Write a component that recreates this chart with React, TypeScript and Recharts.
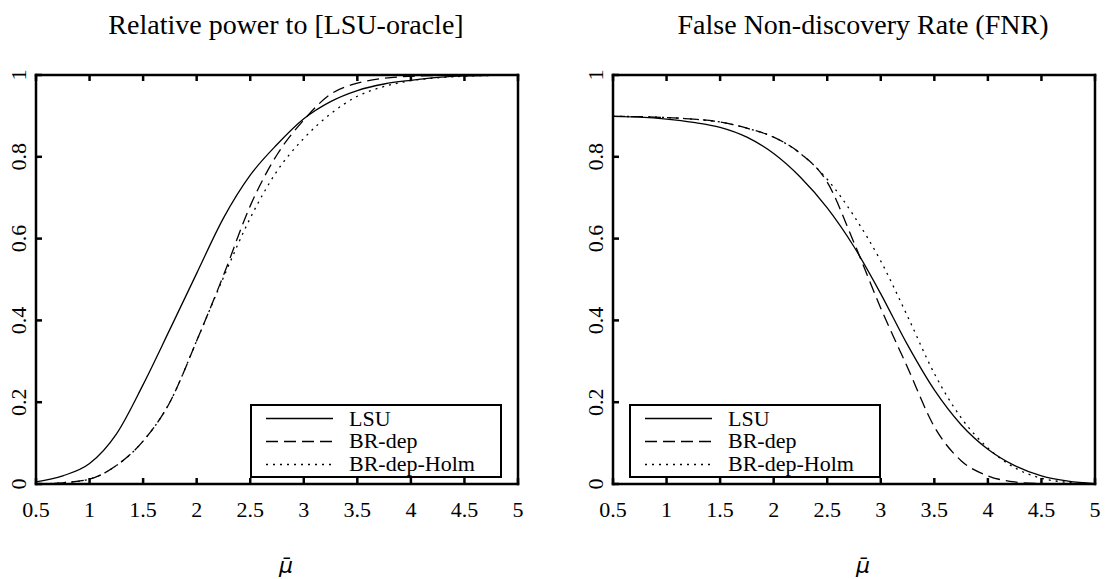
import React from "react";
import { LineChart, Line, XAxis, YAxis, Legend } from "recharts";

const SERIF = '"Liberation Serif", "Times New Roman", serif';

const MU = [0.5, 0.75, 1, 1.25, 1.5, 1.75, 2, 2.25, 2.5, 2.75, 3, 3.25, 3.5, 3.75, 4, 4.25, 4.5, 4.75, 5];

// relative power to [LSU-oracle]
const POWER_LSU = [0.005, 0.02, 0.05, 0.122, 0.243, 0.378, 0.515, 0.65, 0.755, 0.83, 0.893, 0.935, 0.962, 0.978, 0.987, 0.994, 0.998, 0.999, 1.0];
const POWER_BRDEP = [0.0, 0.003, 0.012, 0.045, 0.105, 0.2, 0.35, 0.51, 0.68, 0.805, 0.89, 0.953, 0.98, 0.992, 0.997, 0.999, 1.0, 1.0, 1.0];
const POWER_HOLM = [0.0, 0.003, 0.012, 0.045, 0.105, 0.2, 0.35, 0.505, 0.65, 0.765, 0.845, 0.905, 0.948, 0.972, 0.986, 0.993, 0.997, 0.999, 1.0];

// false non-discovery rate
const FNR_LSU = [0.899, 0.897, 0.892, 0.884, 0.872, 0.848, 0.808, 0.75, 0.675, 0.58, 0.465, 0.34, 0.23, 0.145, 0.085, 0.045, 0.02, 0.007, 0.001];
const FNR_BRDEP = [0.899, 0.898, 0.896, 0.892, 0.885, 0.87, 0.848, 0.808, 0.738, 0.59, 0.43, 0.285, 0.14, 0.057, 0.02, 0.005, 0.001, 0, 0];
const FNR_HOLM = [0.899, 0.898, 0.896, 0.892, 0.885, 0.87, 0.848, 0.808, 0.745, 0.655, 0.545, 0.41, 0.27, 0.162, 0.088, 0.04, 0.014, 0.004, 0.0];

const X_TICKS = [0.5, 1, 1.5, 2, 2.5, 3, 3.5, 4, 4.5, 5];
const Y_TICKS = [0, 0.2, 0.4, 0.6, 0.8, 1];

const SERIES = [
  { key: "lsu", name: "LSU", dash: undefined as string | undefined },
  { key: "brdep", name: "BR-dep", dash: "12 6" },
  { key: "holm", name: "BR-dep-Holm", dash: "2 5" },
];

const toRows = (lsu: number[], brdep: number[], holm: number[]) =>
  MU.map((mu, i) => ({ mu, lsu: lsu[i], brdep: brdep[i], holm: holm[i] }));

const CHART_H = 579;
const PLOT_TOP = 75;
const PLOT_BOTTOM = 484;
const AX = 1; // thin axis band (recharts skips axes of size 0)
const TICK = 6;
const FRAME = { stroke: "#000", strokeWidth: 2.5, strokeLinecap: "square" as const };

function LegendBox() {
  return (
    <svg width={252} height={74} style={{ display: "block" }}>
      <rect x={1} y={1} width={250} height={72} fill="#fff" stroke="#000" strokeWidth={2} />
      {SERIES.map((s, i) => (
        <g key={s.key}>
          <line x1={16} x2={83} y1={14.5 + i * 23} y2={14.5 + i * 23} stroke="#000" strokeWidth={1.3} strokeDasharray={s.dash} />
          <text x={99} y={21.5 + i * 22.5} fontFamily={SERIF} fontSize={22} fill="#000">
            {s.name}
          </text>
        </g>
      ))}
    </svg>
  );
}

function Panel({
  title,
  rows,
  left,
  width,
  plotLeft,
  plotRight,
  legendLeft,
}: {
  title: string;
  rows: Record<string, number>[];
  left: number;
  width: number;
  plotLeft: number;
  plotRight: number;
  legendLeft: number;
}) {
  const center = (plotLeft + plotRight) / 2 + 9;

  const bottomTick = (p: any) => (
    <g>
      <line x1={p.x} x2={p.x} y1={PLOT_BOTTOM} y2={PLOT_BOTTOM - TICK} {...FRAME} strokeLinecap="butt" />
      <text x={p.x} y={PLOT_BOTTOM + 33} textAnchor="middle" fontFamily={SERIF} fontSize={22} fill="#000">
        {String(p.payload.value)}
      </text>
    </g>
  );
  const topTick = (p: any) => <line x1={p.x} x2={p.x} y1={PLOT_TOP} y2={PLOT_TOP + TICK} {...FRAME} strokeLinecap="butt" />;
  const leftTick = (p: any) => {
    const tx = plotLeft - 10;
    return (
      <g>
        <line x1={plotLeft} x2={plotLeft + TICK} y1={p.y} y2={p.y} {...FRAME} strokeLinecap="butt" />
        <text x={tx} y={p.y} transform={`rotate(-90 ${tx} ${p.y})`} textAnchor="middle" fontFamily={SERIF} fontSize={22} fill="#000">
          {String(p.payload.value)}
        </text>
      </g>
    );
  };
  const rightTick = (p: any) => <line x1={plotRight} x2={plotRight - TICK} y1={p.y} y2={p.y} {...FRAME} strokeLinecap="butt" />;

  return (
    <div style={{ position: "absolute", left, top: 0, width, height: CHART_H }}>
      <LineChart
        width={width}
        height={CHART_H}
        data={rows}
        margin={{ top: PLOT_TOP - AX, bottom: CHART_H - PLOT_BOTTOM - AX, left: plotLeft - AX, right: width - plotRight - AX }}
      >
        <XAxis dataKey="mu" type="number" domain={[0.5, 5]} ticks={X_TICKS} interval={0} height={AX} tickLine={false} tickSize={0} axisLine={FRAME} tick={bottomTick} />
        <XAxis xAxisId="top" orientation="top" dataKey="mu" type="number" domain={[0.5, 5]} ticks={X_TICKS} interval={0} height={AX} tickLine={false} tickSize={0} axisLine={FRAME} tick={topTick} />
        <YAxis domain={[0, 1]} ticks={Y_TICKS} interval={0} width={AX} tickLine={false} tickSize={0} axisLine={FRAME} tick={leftTick} />
        <YAxis yAxisId="right" orientation="right" domain={[0, 1]} ticks={Y_TICKS} interval={0} width={AX} tickLine={false} tickSize={0} axisLine={FRAME} tick={rightTick} />
        {SERIES.map((s) => (
          <Line key={s.key} dataKey={s.key} name={s.name} type="monotone" stroke="#000" strokeWidth={1.3} strokeDasharray={s.dash} dot={false} activeDot={false} isAnimationActive={false} />
        ))}
        <Legend layout="vertical" align="center" verticalAlign="middle" wrapperStyle={{ left: legendLeft, top: 404, width: 252, height: 74 }} content={() => <LegendBox />} />
      </LineChart>
      <svg width={width} height={CHART_H} style={{ position: "absolute", left: 0, top: 0, pointerEvents: "none" }}>
        <text x={center} y={34} textAnchor="middle" fontFamily={SERIF} fontSize={28} fill="#000">
          {title}
        </text>
        <text x={center} y={573} textAnchor="middle" fontFamily='"DejaVu Sans", sans-serif' fontStyle="italic" fontSize={22} fill="#000">
          {"\u03bc\u0304"}
        </text>
      </svg>
    </div>
  );
}

export default function App() {
  return (
    <div style={{ position: "absolute", left: 0, top: 0, width: 1105, height: CHART_H, background: "#fff" }}>
      <Panel
        title="Relative power to [LSU-oracle]"
        rows={toRows(POWER_LSU, POWER_BRDEP, POWER_HOLM)}
        left={0}
        width={552}
        plotLeft={36}
        plotRight={518}
        legendLeft={250}
      />
      <Panel
        title="False Non-discovery Rate (FNR)"
        rows={toRows(FNR_LSU, FNR_BRDEP, FNR_HOLM)}
        left={560}
        width={545}
        plotLeft={53}
        plotRight={535}
        legendLeft={69}
      />
    </div>
  );
}
